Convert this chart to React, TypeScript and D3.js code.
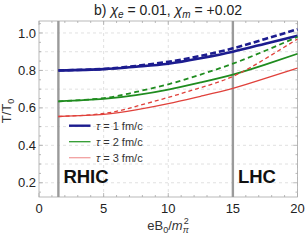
import React from "react";
import * as d3 from "d3";

const eB = [1.5, 5, 7.5, 10, 12.5, 15, 17.5, 20];
const tau1Solid = [0.8, 0.807, 0.82, 0.836, 0.865, 0.9, 0.943, 0.985];
const tau1Dashed = [0.8, 0.808, 0.824, 0.846, 0.878, 0.918, 0.968, 1.02];
const tau2Solid = [0.635, 0.648, 0.668, 0.698, 0.736, 0.778, 0.831, 0.889];
const tau2Dashed = [0.635, 0.652, 0.685, 0.726, 0.778, 0.836, 0.905, 0.979];
const tau3Solid = [0.554, 0.565, 0.589, 0.623, 0.662, 0.704, 0.757, 0.813];
const tau3Dashed = [0.554, 0.57, 0.608, 0.656, 0.708, 0.768, 0.862, 0.968];
const xTicks = [0, 5, 10, 15, 20];
const yTicks = [0.2, 0.4, 0.6, 0.8, 1.0];
const yGrid = [0.2, 0.3, 0.4, 0.5, 0.6, 0.7, 0.8, 0.9, 1.0];
const legendLabels = ["1", "2", "3"];
const markers = [
  { x: 1.5, label: "RHIC" },
  { x: 15, label: "LHC" },
];

const colors = ["#1c1c8f", "#1f8c1f", "#e0413b"];
const legendColors = ["#1c1c8f", "#2e9a2e", "#f2a0a0"];
const widths = [2.6, 1.8, 1.3];

export default function App() {
  const W = 305, H = 240;
  const x = d3.scaleLinear().domain([0, 20]).range([39, 297.5]);
  const y = d3.scaleLinear().domain([0.124, 1.064]).range([197, 21]);
  const line = d3
    .line<[number, number]>()
    .x((d) => x(d[0]))
    .y((d) => y(d[1]))
    .curve(d3.curveNatural);
  const series = [
    { vals: tau1Solid, c: 0, dash: false },
    { vals: tau2Solid, c: 1, dash: false },
    { vals: tau3Solid, c: 2, dash: false },
    { vals: tau1Dashed, c: 0, dash: true },
    { vals: tau2Dashed, c: 1, dash: true },
    { vals: tau3Dashed, c: 2, dash: true },
  ];
  const dashes = ["6,3", "5,3.5", "4,3"];
  const minorX = d3.range(0, 20.01, 1);
  const minorY = d3.range(0.15, 1.06, 0.05);
  const frame = "#a8a8a8";
  const font = "Liberation Sans, Arial, sans-serif";
  return (
    <svg
      width={W}
      height={H}
      style={{ position: "absolute", left: 0, top: 0, background: "#fff" }}
      fontFamily={font}
    >
      {yGrid.map((v) => (
        <line key={"gy" + v} x1={x(0)} x2={x(20)} y1={y(v)} y2={y(v)} stroke="#d8d8d8" strokeWidth={0.8} strokeDasharray="3,3" />
      ))}
      {xTicks.slice(1).map((v) => (
        <line key={"gx" + v} x1={x(v)} x2={x(v)} y1={y(1.064)} y2={y(0.124)} stroke="#d8d8d8" strokeWidth={0.8} strokeDasharray="3,3" />
      ))}
      <rect x={x(0)} y={y(1.064)} width={x(20) - x(0)} height={y(0.124) - y(1.064)} fill="none" stroke={frame} strokeWidth={0.8} />
      {minorX.map((v) => {
        const major = v % 5 === 0;
        const len = major ? 4 : 2;
        return (
          <g key={"tx" + v}>
            <line x1={x(v)} x2={x(v)} y1={y(0.124)} y2={y(0.124) - len} stroke={frame} strokeWidth={0.8} />
            <line x1={x(v)} x2={x(v)} y1={y(1.064)} y2={y(1.064) + len} stroke={frame} strokeWidth={0.8} />
          </g>
        );
      })}
      {minorY.map((v) => {
        const major = Math.abs(v * 10 - Math.round(v * 10)) < 0.01 && Math.round(v * 10) % 2 === 0;
        const len = major ? 4 : 2;
        return (
          <g key={"ty" + v}>
            <line x1={x(0)} x2={x(0) + len} y1={y(v)} y2={y(v)} stroke={frame} strokeWidth={0.8} />
            <line x1={x(20)} x2={x(20) - len} y1={y(v)} y2={y(v)} stroke={frame} strokeWidth={0.8} />
          </g>
        );
      })}
      {xTicks.map((v) => (
        <text key={"xl" + v} x={x(v)} y={213} textAnchor="middle" fontSize={13} fill="#222">
          {v}
        </text>
      ))}
      {yTicks.map((v) => (
        <text key={"yl" + v} x={36} y={y(v) + 4.6} textAnchor="end" fontSize={13} fill="#222">
          {v.toFixed(1)}
        </text>
      ))}
      {markers.map((m) => (
        <g key={m.label}>
          <line x1={x(m.x)} x2={x(m.x)} y1={y(1.064)} y2={y(0.124)} stroke="#9a9a9a" strokeWidth={2.4} />
          <text x={x(m.x) + 5} y={182.5} fontSize={18.5} fontWeight="bold" fill="#111">
            {m.label}
          </text>
        </g>
      ))}
      {series.map((s, i) => (
        <path
          key={i}
          d={line(eB.map((b, k) => [b, s.vals[k]]) as [number, number][]) || ""}
          fill="none"
          stroke={colors[s.c]}
          strokeWidth={widths[s.c]}
          strokeDasharray={s.dash ? dashes[s.c] : undefined}
        />
      ))}
      {legendLabels.map((l, i) => (
        <g key={"lg" + l}>
          <line x1={69} x2={90.5} y1={125.7 + i * 16} y2={125.7 + i * 16} stroke={legendColors[i]} strokeWidth={i === 0 ? 2.4 : 1.3} />
          <text x={96} y={129.7 + i * 16} fontSize={11} fill="#333">
            <tspan fontStyle="italic">τ</tspan> = {l} fm/c
          </text>
        </g>
      ))}
      <text x={168} y={15} textAnchor="middle" fontSize={14} fill="#222">
        b){" "}
        <tspan fontStyle="italic">χ</tspan>
        <tspan fontStyle="italic" fontSize={10} dy={3}>e</tspan>
        <tspan dy={-3}> = 0.01, </tspan>
        <tspan fontStyle="italic">χ</tspan>
        <tspan fontStyle="italic" fontSize={10} dy={3}>m</tspan>
        <tspan dy={-3}> = +0.02</tspan>
      </text>
      <text x={168} y={230} textAnchor="middle" fontSize={13} fill="#333">
        eB
        <tspan fontSize={9} dy={3}>0</tspan>
        <tspan dy={-3}>/</tspan>
        <tspan fontStyle="italic">m</tspan>
        <tspan fontStyle="italic" fontSize={9} dy={3}>π</tspan>
        <tspan fontSize={9} dx={-5} dy={-9}>2</tspan>
      </text>
      <text transform="translate(11,111) rotate(-90)" textAnchor="middle" fontSize={13} fill="#333">
        T/
        <tspan>T</tspan>
        <tspan fontSize={9} dy={3}>0</tspan>
      </text>
    </svg>
  );
}
